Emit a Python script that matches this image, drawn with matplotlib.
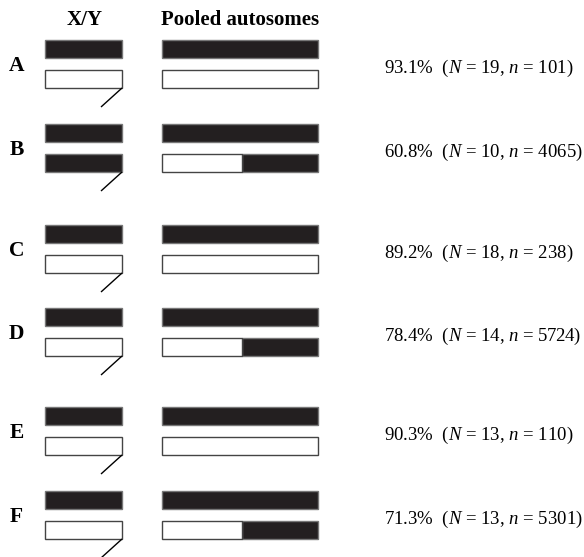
import matplotlib
matplotlib.use("Agg")
import matplotlib.pyplot as plt
from matplotlib.patches import Rectangle

plt.rcParams['mathtext.fontset'] = 'custom'
plt.rcParams['mathtext.rm'] = 'Liberation Serif'
plt.rcParams['mathtext.it'] = 'Liberation Serif:italic'

# ---- data ----
labels = ["A", "B", "C", "D", "E", "F"]
percent = [93.1, 60.8, 89.2, 78.4, 90.3, 71.3]
N_vals = [19, 10, 18, 14, 13, 13]
n_vals = [101, 4065, 238, 5724, 110, 5301]
xy_bottom_dark = [False, True, False, False, False, False]
auto_bottom_white_frac = [1.0, 0.51, 1.0, 0.51, 1.0, 0.51]
headers = ["X/Y", "Pooled autosomes"]

# ---- layout (pixel coordinates) ----
W, H = 584, 557
row_top = [40, 124, 225, 308, 407, 491]
bar_h = 18
gap = 12
xy_x0, xy_x1 = 45, 122
au_x0, au_x1 = 162, 318
dark = "#231f20"
edge_dark = "#777777"
edge_light = "#444444"

fig = plt.figure(figsize=(W / 100, H / 100), dpi=100)
ax = fig.add_axes([0, 0, 1, 1])
ax.set_xlim(0, W)
ax.set_ylim(H, 0)
ax.axis("off")

serif = "Liberation Serif"
ax.text((xy_x0 + xy_x1) / 2 + 1, 25, headers[0], ha="center", va="baseline",
        fontsize=15, fontweight="bold", family=serif)
ax.text((au_x0 + au_x1) / 2, 25, headers[1], ha="center", va="baseline",
        fontsize=15, fontweight="bold", family=serif)

def bar(x0, x1, y, filled):
    ax.add_patch(Rectangle((x0, y), x1 - x0, bar_h,
                           facecolor=dark if filled else "white",
                           edgecolor=edge_dark if filled else edge_light,
                           linewidth=1.0))

for i, lab in enumerate(labels):
    y0 = row_top[i]
    y1 = y0 + bar_h + gap
    yc = (y0 + y1 + bar_h) / 2
    ax.text(16.5, yc + 7, lab, ha="center", va="baseline", fontsize=15.5,
            fontweight="bold", family=serif)
    # X chromosome (top) and Y (bottom)
    bar(xy_x0, xy_x1, y0, True)
    bar(xy_x0, xy_x1, y1, xy_bottom_dark[i])
    ax.plot([xy_x1, xy_x1 - 21], [y1 + bar_h, y1 + bar_h + 19],
            color="black", lw=1.0, solid_capstyle="butt")
    # autosomes
    bar(au_x0, au_x1, y0, True)
    f = auto_bottom_white_frac[i]
    xs = au_x0 + f * (au_x1 - au_x0)
    if f < 1.0:
        ax.add_patch(Rectangle((xs, y1), au_x1 - xs, bar_h, facecolor=dark,
                               edgecolor=edge_dark, linewidth=1.0))
        ax.add_patch(Rectangle((au_x0, y1), xs - au_x0, bar_h, facecolor="white",
                               edgecolor=edge_light, linewidth=1.0))
    else:
        bar(au_x0, au_x1, y1, False)
    txt = f"{percent[i]:.1f}%  ($N$ = {N_vals[i]}, $n$ = {n_vals[i]})"
    ax.text(384, yc + 9, txt, ha="left", va="baseline", fontsize=13.5,
            family=serif)

fig.savefig("out.png", dpi=100)
